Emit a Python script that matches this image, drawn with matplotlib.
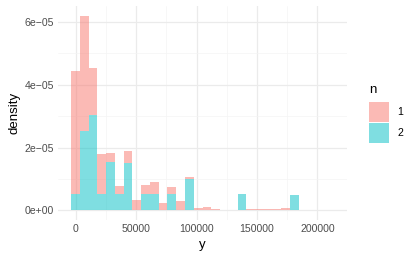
import numpy as np
import matplotlib
matplotlib.use("Agg")
import matplotlib.pyplot as plt
from matplotlib.patches import Rectangle

plt.rcParams['font.family'] = ['Liberation Sans', 'DejaVu Sans']

# Histogram bins (30 bins, ggplot default)
bin_start = -3900.0
bin_width = 7250.0
n_bins = 30

# density of group n = 2 (bottom of the stack)
dens_2 = np.array([0.52, 2.53, 3.03, 0.52, 1.53, 0.51, 1.52, 0.00, 0.51, 0.51,
                   0.00, 0.51, 0.00, 1.00, 0.00, 0.00, 0.00, 0.00, 0.00, 0.51,
                   0.00, 0.00, 0.00, 0.00, 0.00, 0.50, 0.00, 0.00, 0.00, 0.00]) * 1e-5
# density of group n = 1 (stacked on top)
dens_1 = np.array([3.92, 3.67, 1.49, 1.27, 0.29, 0.27, 0.36, 0.34, 0.29, 0.38,
                   0.22, 0.22, 0.30, 0.05, 0.06, 0.10, 0.04, 0.00, 0.02, 0.02,
                   0.03, 0.04, 0.05, 0.03, 0.06, 0.00, 0.00, 0.00, 0.00, 0.02]) * 1e-5

groups = ["1", "2"]
colors = ["#F8766D", "#00BFC4"]
x_ticks = [0, 50000, 100000, 150000, 200000]
x_ticklabels = ["0", "50000", "100000", "150000", "200000"]
y_ticks = [0, 2e-5, 4e-5, 6e-5]
y_ticklabels = ["0e+00", "2e\u221205", "4e\u221205", "6e\u221205"]

W, H = 415, 259
dpi = 72
fig = plt.figure(figsize=(W / dpi, H / dpi), dpi=dpi)
ax = fig.add_axes([58 / W, 1 - 220 / H, (347 - 58) / W, (220 - 6) / H])

edges = bin_start + bin_width * np.arange(n_bins + 1)
lefts = edges[:-1]

ax.bar(lefts, dens_2, width=bin_width, align="edge", color=colors[1], alpha=0.5,
       linewidth=0, zorder=3)
ax.bar(lefts, dens_1, width=bin_width, align="edge", bottom=dens_2, color=colors[0],
       alpha=0.5, linewidth=0, zorder=3)

xr = edges[-1] - edges[0]
ax.set_xlim(edges[0] - 0.05 * xr, edges[-1] + 0.05 * xr)
ymax = (dens_1 + dens_2).max()
ax.set_ylim(-0.05 * ymax, ymax * 1.05)

for s in ax.spines.values():
    s.set_visible(False)
ax.set_xticks(x_ticks)
ax.set_xticklabels(x_ticklabels)
ax.set_yticks(y_ticks)
ax.set_yticklabels(y_ticklabels)
ax.set_xticks([25000, 75000, 125000, 175000], minor=True)
ax.set_yticks([1e-5, 3e-5, 5e-5], minor=True)
ax.tick_params(which="both", length=0, labelsize=10.5, labelcolor="#4D4D4D", pad=4)
ax.grid(which="major", color="#EBEBEB", linewidth=1.2, zorder=0)
ax.grid(which="minor", color="#F4F4F4", linewidth=0.65, zorder=0)
ax.set_axisbelow(True)

ax.set_xlabel("y", fontsize=13.2, color="black", labelpad=5)
ax.set_ylabel("density", fontsize=13.2, color="black", labelpad=4)

# Legend (ggplot style), laid out in figure pixels
def fx(px):
    return px / W

def fy(py):
    return 1 - py / H

fig.text(fx(369), fy(90), "n", fontsize=13.2, ha="left", va="center", color="black")
key_tops = [102, 123]
key_h = 19.5
key_w = 19.5
for lab, col, top in zip(groups, colors, key_tops):
    fig.add_artist(Rectangle((fx(369), fy(top + key_h)), key_w / W, key_h / H,
                             transform=fig.transFigure, facecolor=col, alpha=0.5,
                             linewidth=0))
    fig.text(fx(397), fy(top + key_h / 2), lab, fontsize=10.5, ha="left",
             va="center", color="black")

fig.savefig("out.png", dpi=dpi)
